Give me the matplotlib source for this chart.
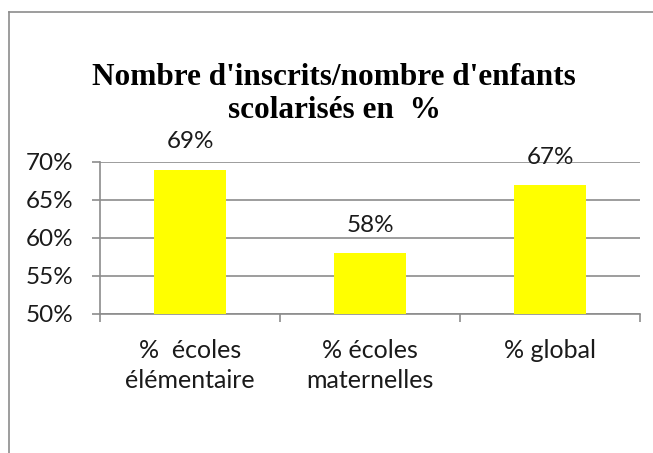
import matplotlib
matplotlib.use('Agg')
import matplotlib.pyplot as plt
from matplotlib.lines import Line2D
from matplotlib.ticker import FuncFormatter, MultipleLocator

# données
categories = ['%  écoles\nélémentaire', '% écoles\nmaternelles', '% global']
valeurs = [69, 58, 67]
etiquettes = ['69%', '58%', '67%']

gris = '#8c8c8c'
police = 'Lato'

fig = plt.figure(figsize=(6.53, 4.53), dpi=100)
ax = fig.add_axes([100 / 653, 139 / 453, 540 / 653, 152 / 453])

x = list(range(len(categories)))
ax.bar(x, valeurs, width=0.405, color='#FFFF00', zorder=3)

# étiquettes des barres
for xi, v, lab in zip(x, valeurs, etiquettes):
    ax.annotate(lab, (xi, v), xytext=(0, 20), textcoords='offset points',
                ha='center', va='center', fontsize=17.5, family=police,
                color='#1a1a1a', annotation_clip=False, zorder=4)

ax.set_ylim(50, 70)
ax.set_xlim(-0.5, 2.5)
ax.yaxis.set_major_locator(MultipleLocator(5))
ax.yaxis.set_major_formatter(FuncFormatter(lambda v, p: '%d%%' % v))

ax.set_xticks(x)
ax.set_xticklabels(categories, fontsize=18, family=police, color='#1a1a1a',
                   linespacing=1.38, va='top')
ax.set_xticks([-0.5, 0.5, 1.5, 2.5], minor=True)
ax.tick_params(axis='x', which='major', length=0, pad=18)
ax.tick_params(axis='x', which='minor', length=6, color=gris, width=1.2)
ax.tick_params(axis='y', length=6, color=gris, width=1.2, pad=13,
               labelsize=17.5, labelcolor='#1a1a1a')
for t in ax.get_yticklabels():
    t.set_family(police)

ax.grid(axis='y', color=gris, linewidth=1.2, zorder=0)
ax.set_axisbelow(True)
for s in ['top', 'right']:
    ax.spines[s].set_visible(False)
for s in ['left', 'bottom']:
    ax.spines[s].set_color(gris)
    ax.spines[s].set_linewidth(1.2)

# titre
fig.text(334 / 653, 1 - 94 / 453, "Nombre d'inscrits/nombre d'enfants\nscolarisés en  %",
         ha='center', va='center', multialignment='center',
         fontsize=22.5, fontweight='bold', family='Liberation Serif', linespacing=1.2)

# cadre du graphique
fig.add_artist(Line2D([9 / 653, 9 / 653], [0, 1 - 12 / 453], transform=fig.transFigure,
                      color=gris, linewidth=1.2))
fig.add_artist(Line2D([9 / 653, 1], [1 - 12 / 453, 1 - 12 / 453], transform=fig.transFigure,
                      color=gris, linewidth=1.2))

fig.savefig('out.png', dpi=100)
